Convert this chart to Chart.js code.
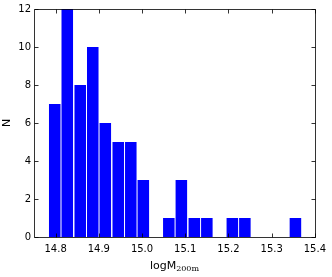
<!DOCTYPE html>
<html>
<head>
<meta charset="utf-8">
<script src="https://cdn.jsdelivr.net/npm/chart.js@4.4.0/dist/chart.umd.min.js"></script>
<style>
html,body{margin:0;padding:0;background:#fff;}
#wrap{width:332px;height:277px;}
</style>
</head>
<body>
<div id="wrap"><canvas id="c" width="332" height="277"></canvas></div>
<script>
// bin centers (logM200m) and counts N
const binCenters = [14.798, 14.827, 14.857, 14.886, 14.915, 14.945, 14.974, 15.003, 15.033, 15.062,
                    15.091, 15.121, 15.150, 15.179, 15.209, 15.238, 15.267, 15.297, 15.326, 15.355];
const counts = [7, 12, 8, 10, 6, 5, 5, 3, 0, 1, 3, 1, 1, 0, 1, 1, 0, 0, 0, 1];
const xTicks = [14.8, 14.9, 15.0, 15.1, 15.2, 15.3, 15.4];
const yTicks = [0, 2, 4, 6, 8, 10, 12];

const FONT = '"DejaVu Sans", sans-serif';

const framePlugin = {
  id: 'frame',
  afterDraw(chart) {
    const ctx = chart.ctx;
    const a = chart.chartArea;
    const xs = chart.scales.x, ys = chart.scales.y;
    ctx.save();
    ctx.strokeStyle = 'rgba(0,0,0,0.8)';
    ctx.lineWidth = 1;
    ctx.beginPath();
    const L = Math.round(a.left) + 0.5, R = Math.round(a.right) + 0.5;
    const T = Math.round(a.top) + 0.5, B = Math.round(a.bottom) + 0.5;
    ctx.rect(L, T, R - L, B - T);
    ctx.stroke();
    const tl = 4;
    ctx.beginPath();
    xTicks.forEach(v => {
      const px = Math.round(xs.getPixelForValue(v)) + 0.5;
      ctx.moveTo(px, B); ctx.lineTo(px, B - tl);
      ctx.moveTo(px, T); ctx.lineTo(px, T + tl);
    });
    yTicks.forEach(v => {
      const py = Math.round(ys.getPixelForValue(v)) + 0.5;
      ctx.moveTo(L, py); ctx.lineTo(L + tl, py);
      ctx.moveTo(R, py); ctx.lineTo(R - tl, py);
    });
    ctx.stroke();
    // axis titles
    ctx.fillStyle = '#000';
    ctx.textBaseline = 'alphabetic';
    const main = 'logM';
    ctx.font = '11px ' + FONT;
    const w1 = ctx.measureText(main).width;
    ctx.font = '8px "DejaVu Serif", serif';
    const sub = '200m';
    const w2 = ctx.measureText(sub).width;
    const cx = (a.left + a.right) / 2;
    const start = cx - (w1 + w2) / 2;
    ctx.font = '11px ' + FONT;
    ctx.textAlign = 'left';
    ctx.fillText(main, start, 269);
    ctx.font = '8px "DejaVu Serif", serif';
    ctx.fillText(sub, start + w1, 271);
    ctx.save();
    ctx.translate(10, (a.top + a.bottom) / 2);
    ctx.rotate(-Math.PI / 2);
    ctx.font = '11px ' + FONT;
    ctx.textAlign = 'center';
    ctx.fillText('N', 0, 0);
    ctx.restore();
    ctx.restore();
  }
};

new Chart(document.getElementById('c'), {
  type: 'bar',
  data: {
    datasets: [{
      data: binCenters.map((x, i) => ({ x: x, y: counts[i] })),
      backgroundColor: '#0000ff',
      borderWidth: 0,
      barPercentage: 0.92,
      categoryPercentage: 1.0
    }]
  },
  options: {
    responsive: false,
    animation: false,
    events: [],
    layout: { padding: { left: 0, right: 14, top: 8, bottom: 0 } },
    plugins: { legend: { display: false }, tooltip: { enabled: false } },
    scales: {
      x: {
        type: 'linear',
        offset: false,
        min: 14.75,
        max: 15.4,
        afterBuildTicks(scale) { scale.ticks = xTicks.map(v => ({ value: v })); },
        afterFit(scale) { scale.height = 40; },
        grid: { display: false, drawTicks: false, offset: false },
        border: { display: false },
        ticks: {
          padding: 6,
          color: '#000',
          font: { family: FONT, size: 10 },
          maxRotation: 0,
          autoSkip: false,
          callback: v => Number(v).toFixed(1)
        }
      },
      y: {
        min: 0,
        max: 12,
        afterBuildTicks(scale) { scale.ticks = yTicks.map(v => ({ value: v })); },
        afterFit(scale) { scale.width = 34; },
        grid: { display: false, drawTicks: false },
        border: { display: false },
        ticks: {
          padding: 3,
          color: '#000',
          font: { family: FONT, size: 10 },
          autoSkip: false,
          callback: v => String(v)
        }
      }
    }
  },
  plugins: [framePlugin]
});
</script>
</body>
</html>
